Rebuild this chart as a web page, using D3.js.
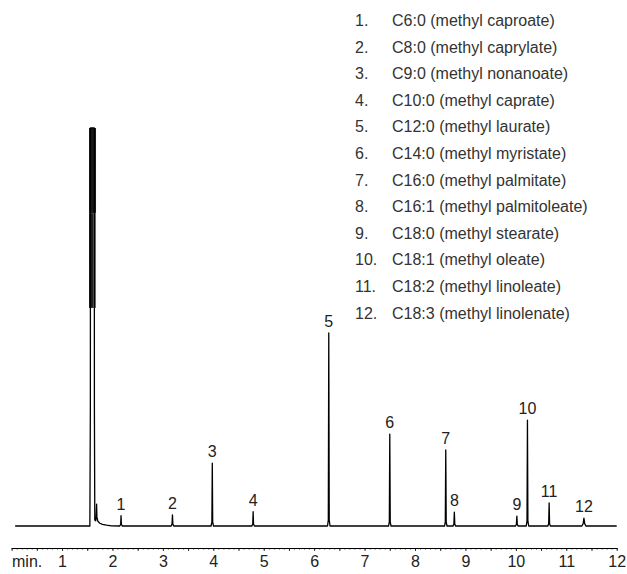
<!DOCTYPE html>
<html>
<head>
<meta charset="utf-8">
<script src="https://cdn.jsdelivr.net/npm/d3@7"></script>
<style>
  html, body { margin: 0; padding: 0; background: #fff; }
  svg { display: block; }
  text { font-family: "Liberation Sans", Arial, sans-serif; }
</style>
</head>
<body>
<svg id="chart" width="627" height="574"></svg>
<script>
// ---- data ----
// chromatogram trace: [retention time (min), detector signal (arbitrary units, solvent top = 100)]
const traceTimes = [
  0.07, 1.552, 1.562, 1.5645, 1.6398, 1.642, 1.650, 1.668, 1.678, 1.686, 1.692, 1.71, 1.75, 1.80, 1.88, 1.98,
  2.145, 2.163, 2.17, 2.178, 2.195,
  3.165, 3.182, 3.19, 3.198, 3.215,
  3.955, 3.972, 3.98, 3.988, 4.005,
  4.765, 4.782, 4.79, 4.798, 4.815,
  6.265, 6.281, 6.29, 6.299, 6.315,
  7.475, 7.491, 7.50, 7.509, 7.525,
  8.585, 8.601, 8.61, 8.619, 8.635,
  8.755, 8.771, 8.78, 8.789, 8.805,
  9.995, 10.011, 10.02, 10.029, 10.045,
  10.205, 10.221, 10.23, 10.239, 10.255,
  10.635, 10.651, 10.66, 10.669, 10.685,
  11.31, 11.335, 11.35, 11.365, 11.39,
  12.0
];
const traceSignal = [
  0, 0, 30, 100, 100, 30, 1.5, 1.3, 2.5, 5.5, 2.2, 1.2, 0.7, 0.4, 0.2, 0.05,
  0, 0.4, 2.6, 0.4, 0,
  0, 0.5, 2.8, 0.5, 0,
  0, 1.0, 15.8, 1.0, 0,
  0, 0.5, 3.6, 0.5, 0,
  0, 1.5, 48.5, 1.5, 0,
  0, 1.0, 23.1, 1.0, 0,
  0, 1.0, 19.1, 1.0, 0,
  0, 0.5, 3.5, 0.5, 0,
  0, 0.4, 2.5, 0.4, 0,
  0, 1.2, 26.6, 1.2, 0,
  0, 0.6, 5.8, 0.6, 0,
  0, 0.6, 2.0, 0.6, 0,
  0
];
// saturated (off-scale) part of the solvent peak
const solventBandT0 = [1.535, 1.535, 1.614];
const solventBandT1 = [1.674, 1.614, 1.674];
const solventBandTop = [100, 78.6, 78.6];
const solventBandBottom = [78.6, 54.8, 54.8];
const solventBandShade = ["#1a1a1a", "#1e1e1e", "#6a6a6a"];

// labelled peaks
const peakLabels = ["1","2","3","4","5","6","7","8","9","10","11","12"];
const peakTimes = [2.17, 3.19, 3.98, 4.79, 6.29, 7.50, 8.61, 8.78, 10.02, 10.23, 10.66, 11.35];
const peakHeights = [2.6, 2.8, 15.8, 3.6, 48.5, 23.1, 19.1, 3.5, 2.5, 26.6, 5.8, 2.0];

// legend
const legendNumbers = ["1.","2.","3.","4.","5.","6.","7.","8.","9.","10.","11.","12."];
const compounds = [
  "C6:0 (methyl caproate)",
  "C8:0 (methyl caprylate)",
  "C9:0 (methyl nonanoate)",
  "C10:0 (methyl caprate)",
  "C12:0 (methyl laurate)",
  "C14:0 (methyl myristate)",
  "C16:0 (methyl palmitate)",
  "C16:1 (methyl palmitoleate)",
  "C18:0 (methyl stearate)",
  "C18:1 (methyl oleate)",
  "C18:2 (methyl linoleate)",
  "C18:3 (methyl linolenate)"
];

// axis
const axisTickValues = [1,2,3,4,5,6,7,8,9,10,11,12];
const axisTickLabels = ["1","2","3","4","5","6","7","8","9","10","11","12"];
const axisUnit = "min.";

// ---- drawing ----
const svg = d3.select("#chart");
const x = d3.scaleLinear().domain([0, 12]).range([11.6, 616.7]);
const y = d3.scaleLinear().domain([0, 100]).range([526, 128]);

// solvent saturated band
svg.append("g").selectAll("rect")
  .data(solventBandT0.map((t0, i) => ({t0, t1: solventBandT1[i], top: solventBandTop[i], bot: solventBandBottom[i], c: solventBandShade[i]})))
  .join("rect")
  .attr("x", d => x(d.t0))
  .attr("width", d => x(d.t1) - x(d.t0))
  .attr("y", d => y(d.top))
  .attr("height", d => y(d.bot) - y(d.top))
  .attr("fill", d => d.c);

// trace
const trace = traceTimes.map((t, i) => [t, traceSignal[i]]);
svg.append("path")
  .datum(trace)
  .attr("fill", "none")
  .attr("stroke", "#000")
  .attr("stroke-width", 1.3)
  .attr("stroke-linejoin", "round")
  .attr("d", d3.line().x(d => x(d[0])).y(d => y(d[1])));

// peak labels
svg.append("g").selectAll("text")
  .data(peakLabels.map((l, i) => ({l, t: peakTimes[i], h: peakHeights[i]})))
  .join("text")
  .attr("x", d => x(d.t))
  .attr("y", d => y(d.h) - 6)
  .attr("text-anchor", "middle")
  .attr("font-size", 16)
  .attr("fill", "#222")
  .text(d => d.l);

// legend
const leg = svg.append("g");
const rowY = d3.scalePoint().domain(d3.range(compounds.length)).range([25.9, 318.5]);
leg.selectAll("text.num")
  .data(legendNumbers)
  .join("text")
  .attr("class", "num")
  .attr("x", 355)
  .attr("y", (d, i) => rowY(i))
  .attr("font-size", 16)
  .attr("fill", "#333")
  .text(d => d);
leg.selectAll("text.name")
  .data(compounds)
  .join("text")
  .attr("class", "name")
  .attr("x", 392)
  .attr("y", (d, i) => rowY(i))
  .attr("font-size", 16)
  .attr("fill", "#333")
  .text(d => d);

// ruler axis
const axisY = 548;
const gAxis = svg.append("g").attr("transform", `translate(0,${axisY})`);
gAxis.call(d3.axisBottom(x).ticks(120).tickSize(1.5).tickSizeOuter(0).tickFormat(""));
gAxis.append("g").call(d3.axisBottom(x).ticks(24).tickSize(3).tickSizeOuter(0).tickFormat(""))
  .select(".domain").remove();
gAxis.selectAll("path.domain").attr("stroke", "#000").attr("stroke-width", 1);
gAxis.selectAll(".tick line").attr("stroke", "#000").attr("stroke-width", 0.8);

const gLab = svg.append("g").attr("transform", `translate(0,${axisY})`);
gLab.call(d3.axisBottom(x).tickValues(axisTickValues).tickSize(0).tickPadding(7.6)
  .tickFormat((d, i) => axisTickLabels[i]));
gLab.select(".domain").remove();
gLab.selectAll("text")
  .attr("font-size", 16)
  .attr("font-family", "Liberation Sans, Arial, sans-serif")
  .attr("fill", "#222");

svg.append("text")
  .attr("x", 12)
  .attr("y", 567)
  .attr("font-size", 16)
  .attr("fill", "#222")
  .text(axisUnit);
</script>
</body>
</html>
